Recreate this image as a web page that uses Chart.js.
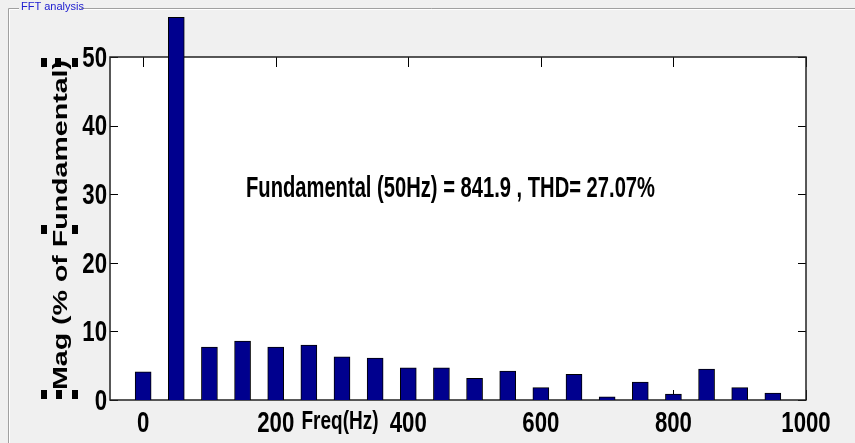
<!DOCTYPE html>
<html>
<head>
<meta charset="utf-8">
<script src="https://cdn.jsdelivr.net/npm/chart.js@4/dist/chart.umd.min.js"></script>
<style>
  html, body { margin:0; padding:0; background:#f0f0f0; }
  #wrap { width:855px; height:443px; position:relative; }
</style>
</head>
<body>
<div id="wrap"><canvas id="fft" width="855" height="443"></canvas></div>
<script>
// harmonic frequencies (Hz) and magnitudes (% of fundamental)
const FREQS = [0, 50, 100, 150, 200, 250, 300, 350, 400, 450, 500, 550, 600, 650, 700, 750, 800, 850, 900, 950];
const MAGS  = [4.1, 55.8, 7.7, 8.6, 7.7, 8.0, 6.3, 6.1, 4.7, 4.7, 3.15, 4.2, 1.8, 3.75, 0.45, 2.6, 0.85, 4.5, 1.8, 1.0];
const X_TICKS = [0, 200, 400, 600, 800, 1000];
const Y_TICKS = [0, 10, 20, 30, 40, 50];
const NOTE = 'Fundamental (50Hz) = 841.9 , THD= 27.07%';
const Y_TITLE = 'Mag (% of Fundamental)';
const X_TITLE = 'Freq(Hz)';

const SANS = "'Liberation Sans', Arial, sans-serif";

// matlab text here looks like Arial stretched, so squeeze it horizontally
function squeezed(c, text, x, y, size, sx, align, width){
  c.save();
  c.font = 'bold ' + size + 'px ' + SANS;
  if (width) sx = width / c.measureText(text).width;
  c.translate(x, y);
  c.scale(sx, 1);
  c.textAlign = align;
  c.textBaseline = 'middle';
  c.fillText(text, 0, 0);
  c.restore();
}

const framePlugin = {
  id: 'frame',
  beforeDraw(chart){
    const c = chart.ctx, a = chart.chartArea;
    c.save();
    // group box
    c.strokeStyle = '#a0a0a0'; c.lineWidth = 1;
    c.beginPath(); c.moveTo(8.5, 443); c.lineTo(8.5, 8.5); c.lineTo(855, 8.5); c.stroke();
    c.strokeStyle = '#ffffff';
    c.beginPath(); c.moveTo(9.5, 443); c.lineTo(9.5, 9.5); c.lineTo(855, 9.5); c.stroke();
    c.fillStyle = '#f0f0f0'; c.fillRect(19, 0, 62, 16);
    c.fillStyle = '#2020d0'; c.font = "11px " + SANS;
    c.textBaseline = 'middle'; c.textAlign = 'left';
    c.fillText('FFT analysis', 21, 7);
    // plot background
    c.fillStyle = '#ffffff';
    c.fillRect(a.left, a.top, a.right - a.left, a.bottom - a.top);
    c.restore();
  },
  beforeDatasetsDraw(chart){
    const c = chart.ctx, a = chart.chartArea;
    const xs = chart.scales.x, ys = chart.scales.y;
    c.save();
    c.strokeStyle = '#000'; c.lineWidth = 1;
    c.beginPath();
    X_TICKS.forEach(v => {
      const px = Math.round(xs.getPixelForValue(v)) + 0.5;
      c.moveTo(px, a.bottom); c.lineTo(px, a.bottom - 10);
      c.moveTo(px, a.top); c.lineTo(px, a.top + 10);
    });
    Y_TICKS.forEach(v => {
      const py = Math.round(ys.getPixelForValue(v)) + 0.5;
      c.moveTo(a.left, py); c.lineTo(a.left + 8, py);
      c.moveTo(a.right, py); c.lineTo(a.right - 8, py);
    });
    c.stroke();
    c.lineWidth = 1.5;
    c.strokeStyle = '#222';
    c.strokeRect(a.left, a.top, a.right - a.left, a.bottom - a.top);
    c.restore();
  },
  afterDraw(chart){
    const c = chart.ctx, a = chart.chartArea;
    const xs = chart.scales.x, ys = chart.scales.y;
    c.save();
    c.fillStyle = '#000';
    // tick labels, placed by the scales
    X_TICKS.forEach(v => squeezed(c, String(v), xs.getPixelForValue(v), 424, 30, 0.74, 'center'));
    Y_TICKS.forEach(v => squeezed(c, String(v), a.left - 3, ys.getPixelForValue(v) + 1.5, 30, 0.74, 'right'));
    squeezed(c, X_TITLE, 340, 422, 26, 1, 'center', 77);
    squeezed(c, NOTE, 246, 189, 30, 1, 'left', 409);
    // selection handles around the y label
    [[41,58],[55,58],[72,58],[41,225],[72,225],[41,390],[56,390],[72,390]].forEach(p => c.fillRect(p[0], p[1], 6, 9));
    // y title (rotated, stretched along its length)
    c.save();
    c.font = 'bold 20px ' + SANS;
    const w = c.measureText(Y_TITLE).width;
    c.translate(66.5, 225);
    c.rotate(-Math.PI / 2);
    c.scale(330 / w, 1);
    c.textAlign = 'center';
    c.textBaseline = 'alphabetic';
    c.fillText(Y_TITLE, 0, 0);
    c.restore();
    c.restore();
  }
};

new Chart(document.getElementById('fft'), {
  type: 'bar',
  data: {
    datasets: [{
      data: FREQS.map((f, i) => ({ x: f, y: MAGS[i] })),
      backgroundColor: '#00008e',
      borderColor: '#000000',
      borderWidth: 1,
      barThickness: 16,
      clip: false
    }]
  },
  options: {
    responsive: false,
    animation: false,
    events: [],
    layout: { padding: { top: 57, right: 49, left: 0, bottom: 0 } },
    plugins: { legend: { display: false }, tooltip: { enabled: false } },
    scales: {
      x: {
        type: 'linear', min: -50, max: 1000, offset: false,
        afterBuildTicks(s){ s.ticks = X_TICKS.map(v => ({ value: v })); },
        afterFit(s){ s.height = 43; },
        grid: { display: false, drawTicks: false },
        border: { display: false },
        ticks: { display: false }
      },
      y: {
        min: 0, max: 50,
        afterBuildTicks(s){ s.ticks = Y_TICKS.map(v => ({ value: v })); },
        afterFit(s){ s.width = 110; },
        grid: { display: false, drawTicks: false },
        border: { display: false },
        ticks: { display: false }
      }
    }
  },
  plugins: [framePlugin]
});
</script>
</body>
</html>
